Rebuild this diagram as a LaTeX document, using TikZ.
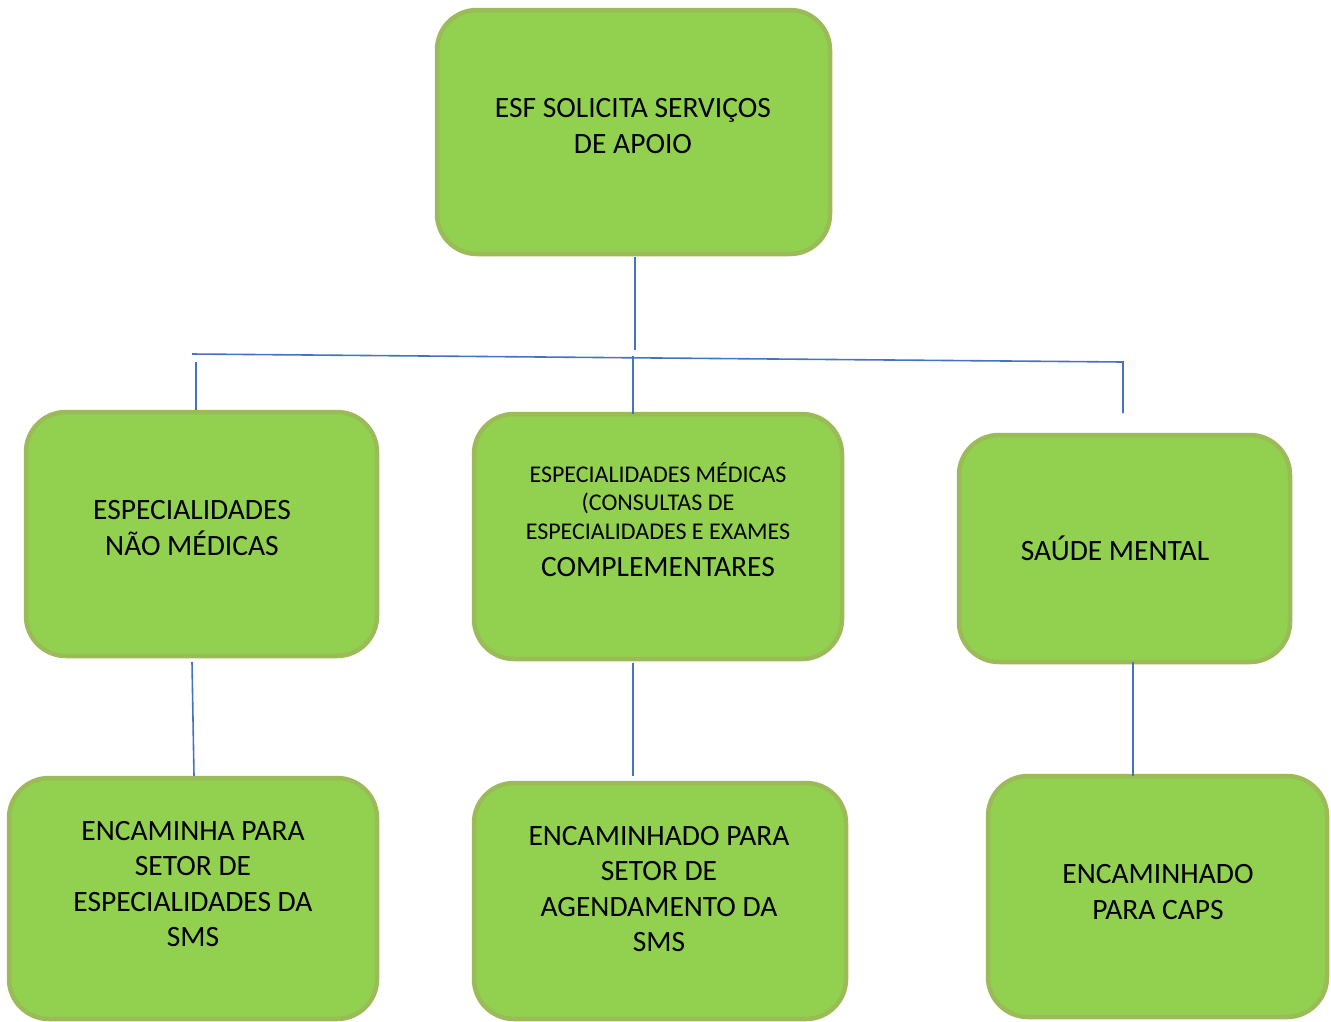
\documentclass[tikz,border=0pt]{standalone}
\usepackage{fontspec}
\setmainfont{Carlito}
\definecolor{boxfill}{HTML}{92D050}
\definecolor{boxline}{HTML}{9BBB59}
\definecolor{conn}{HTML}{4472C4}
\begin{document}
\begin{tikzpicture}[x=1pt,y=-1pt,
  gbox/.style={draw=boxline,fill=boxfill,line width=4.5pt,rounded corners=40pt,inner sep=0pt},
  txt/.style={align=center,font=\fontsize{29.5}{35.5}\selectfont,inner sep=0pt},
  stxt/.style={align=center,font=\fontsize{24}{28.7}\selectfont,inner sep=0pt},
  cline/.style={draw=conn,line width=1.6pt}]
\useasboundingbox (0,0) rectangle (1331,1021);
% boxes
\draw[gbox] (437,10) rectangle (830,254) node[pos=0.5] (top) {};
\draw[gbox] (26,412) rectangle (377,656) node[pos=0.5] (m1) {};
\draw[gbox] (474,414) rectangle (842,659) node[pos=0.5] (m2) {};
\draw[gbox] (959,435) rectangle (1290,662) node[pos=0.5] (m3) {};
\draw[gbox] (9,778) rectangle (377,1019) node[pos=0.5] (b1) {};
\draw[gbox] (474,783) rectangle (846,1019) node[pos=0.5] (b2) {};
\draw[gbox] (988,776) rectangle (1327,1017) node[pos=0.5] (b3) {};
% texts
\node[txt] (ttop) at (633,126) {ESF SOLICITA SERVIÇOS\\DE APOIO};
\node[txt] (tm1) at (192,528) {ESPECIALIDADES\\NÃO MÉDICAS};
\node[stxt,anchor=north] (tm2) at (658,462) {ESPECIALIDADES MÉDICAS\\(CONSULTAS DE\\ESPECIALIDADES E EXAMES};
\node[txt,anchor=north] (tm2b) at (658,557) {COMPLEMENTARES};
\node[txt] (tm3) at (1115,548) {SAÚDE MENTAL};
\node[txt] (tb1) at (193,884) {ENCAMINHA PARA\\SETOR DE\\ESPECIALIDADES DA\\SMS};
\node[txt] (tb2) at (659,889) {ENCAMINHADO PARA\\SETOR DE\\AGENDAMENTO DA\\SMS};
\node[txt] (tb3) at (1158,892) {ENCAMINHADO\\PARA CAPS};
% connector coordinates
\coordinate (t0) at (635,257);
\coordinate (t1) at (635,350);
\coordinate (hl) at (192,354);
\coordinate (hr) at (1123,362);
\coordinate (hrd) at (1123,413);
\coordinate (l0) at (196,362);
\coordinate (l1) at (196,410);
\coordinate (c0) at (633,356);
\coordinate (c1) at (633,414);
\coordinate (d10) at (192,662);
\coordinate (d11) at (194,776);
\coordinate (d20) at (633,663);
\coordinate (d21) at (633,776);
\coordinate (d30) at (1133,662);
\coordinate (d31) at (1133,776);
\draw[cline] (t0) -- (t1);
\draw[cline] (hl) -- (hr) -- (hrd);
\draw[cline] (l0) -- (l1);
\draw[cline] (c0) -- (c1);
\draw[cline] (d10) -- (d11);
\draw[cline] (d20) -- (d21);
\draw[cline] (d30) -- (d31);
\end{tikzpicture}
\end{document}
